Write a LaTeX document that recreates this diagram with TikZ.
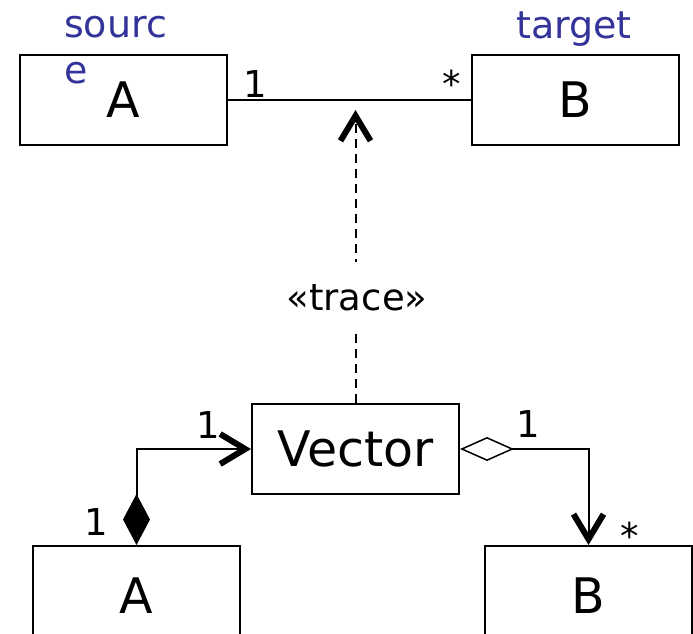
\documentclass[tikz,border=0pt]{standalone}
\usepackage{fontspec}
\setmainfont{DejaVu Sans}
\usetikzlibrary{arrows.meta}
\definecolor{rolecolor}{RGB}{51,51,153}
\tikzset{
  classbox/.style={draw, line width=2pt, minimum width=207pt, minimum height=90pt,
    inner sep=0pt, font=\fontsize{49}{56}\selectfont},
  mult/.style={inner sep=0pt, font=\fontsize{37}{42}\selectfont},
  role/.style={inner sep=0pt, text=rolecolor, font=\fontsize{38}{47}\selectfont},
  link/.style={line width=2pt},
  tracelink/.style={line width=2pt, dash pattern=on 9pt off 6pt},
  opentip/.tip={Straight Barb[length=25pt,width=30pt,line width=6pt 0,sharp]},
}
\begin{document}
\begin{tikzpicture}[x=1pt, y=-1pt]
  \clip (0,0) rectangle (693,634);

  % upper association A -- B
  \node[classbox] (A1) at (123.5,100) {A};
  \node[classbox] (B1) at (575.5,100) {B};
  \draw[link] (A1.east) -- (B1.west);
  \node[mult, anchor=base west] (mA1) at (243,97) {1};
  \node[mult, anchor=base east] (mB1) at (461,97) {*};
  \node[role, anchor=base west, align=left] (src) at (64,84) {sourc\\e};
  \node[role, anchor=base] (tgt) at (574,38) {target};

  % lower classes
  \node[classbox] (V) at (355.5,449) {Vector};
  \node[classbox, minimum height=100pt] (A2) at (136.5,596) {A};
  \node[classbox, minimum height=100pt] (B2) at (588.5,596) {B};

  % trace dependency
  \coordinate (tip) at (355.5,110);
  \draw[tracelink, -opentip] (V.north) -- (tip);
  \node[fill=white, inner xsep=2pt, inner ysep=0pt, text height=48pt, text depth=20pt,
        font=\fontsize{37}{42}\selectfont, anchor=base] (trace) at (357,310) {«trace»};

  % composition A -> Vector
  \draw[link, {Diamond[length=51pt,width=27pt]}-opentip] (A2.north) |- (V.west);
  \node[mult, anchor=base west] (mV1) at (196,438) {1};
  \node[mult, anchor=base west] (mA2) at (84,535) {1};

  % aggregation Vector -> B
  \draw[link, {Diamond[open,length=54pt,width=24pt,line width=1.5pt,fill=white]}-opentip] (V.east) -| (B2.north);
  \node[mult, anchor=base west] (mV2) at (516,437) {1};
  \node[mult, anchor=base west] (mB2) at (620,549) {*};
\end{tikzpicture}
\end{document}
